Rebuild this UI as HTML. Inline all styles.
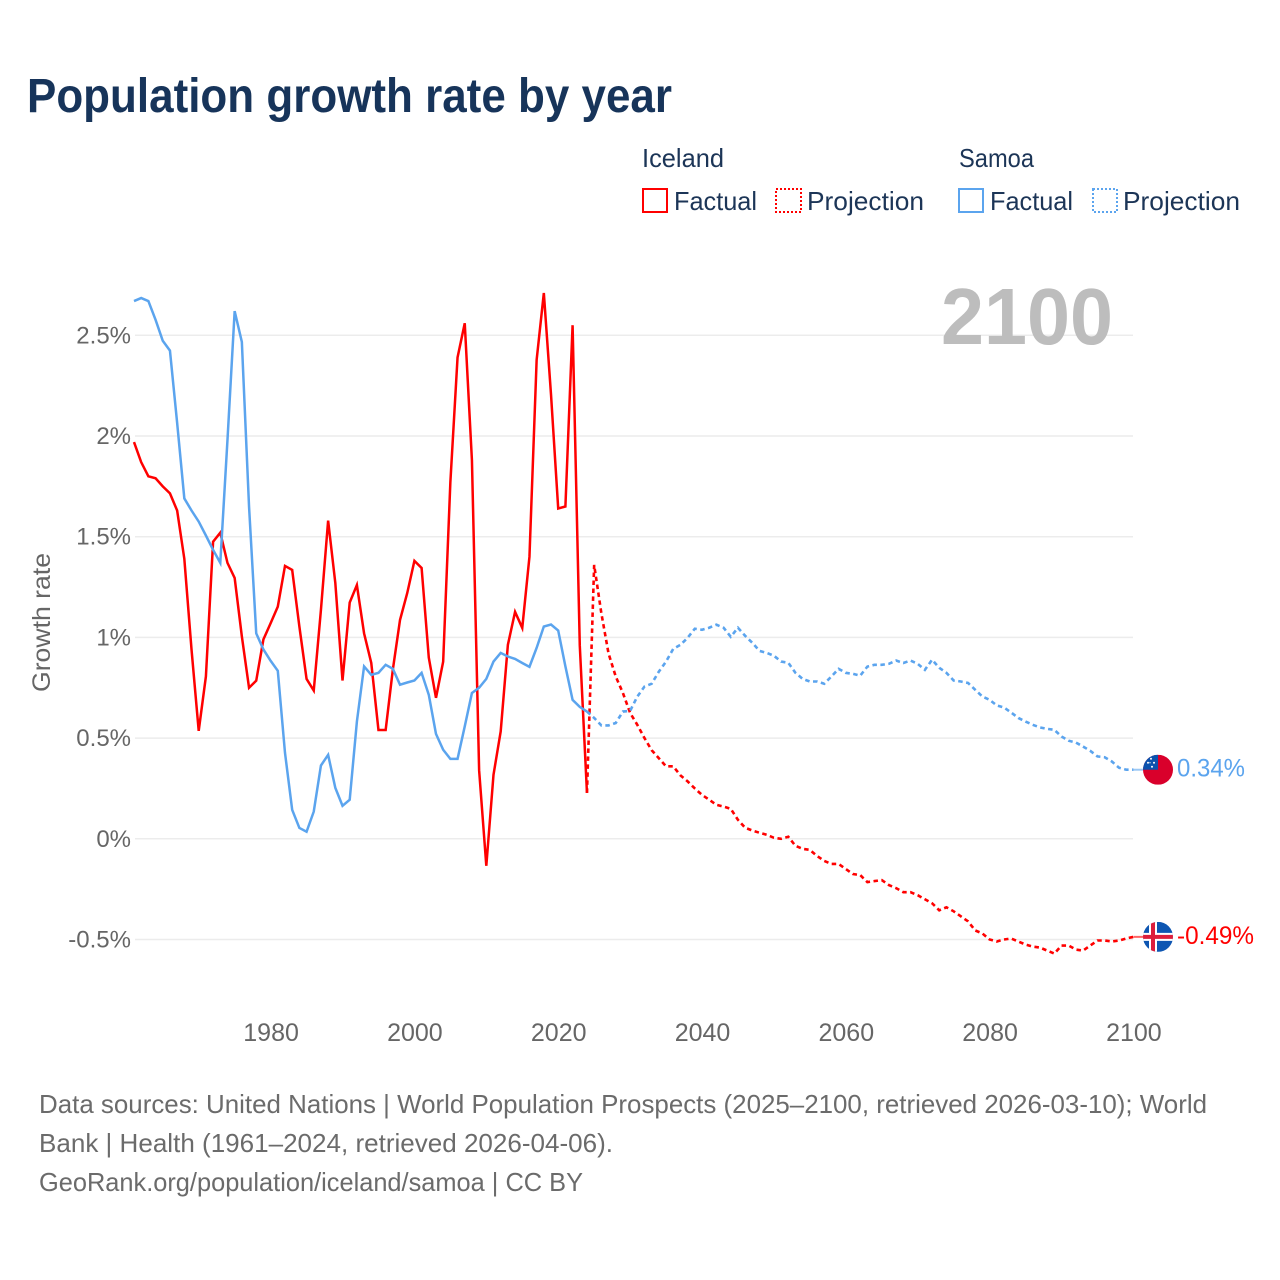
<!DOCTYPE html>
<html lang="en">
<head>
<meta charset="utf-8">
<title>Population growth rate by year</title>
<style>
html,body{margin:0;padding:0;background:#fff;}
svg{display:block;font-family:"Liberation Sans",sans-serif;}
</style>
</head>
<body>
<svg id="chart" width="1280" height="1280" viewBox="0 0 1280 1280" xmlns="http://www.w3.org/2000/svg">
  <defs>
    <clipPath id="flag-clip"><circle cx="0" cy="0" r="15"/></clipPath>
  </defs>
  <rect x="0" y="0" width="1280" height="1280" fill="#fff"/>
  <text x="27" y="112" font-size="48" font-weight="700" fill="#17345a" textLength="645" lengthAdjust="spacingAndGlyphs">Population growth rate by year</text>

  <g font-size="26" fill="#1c3557">
    <text x="642" y="167" textLength="82" lengthAdjust="spacingAndGlyphs">Iceland</text>
    <text x="959" y="167" textLength="75" lengthAdjust="spacingAndGlyphs">Samoa</text>
    <g>
      <rect x="643" y="189" width="24" height="23" fill="none" stroke="#ff0000" stroke-width="2"/>
      <text x="674" y="210" textLength="83" lengthAdjust="spacingAndGlyphs">Factual</text>
    </g>
    <g>
      <rect x="776" y="189" width="25" height="23" fill="none" stroke="#ff0000" stroke-width="2" stroke-dasharray="2 2"/>
      <text x="807" y="210" textLength="117" lengthAdjust="spacingAndGlyphs">Projection</text>
    </g>
    <g>
      <rect x="959" y="189" width="24" height="23" fill="none" stroke="#5ba4ee" stroke-width="2"/>
      <text x="990" y="210" textLength="83" lengthAdjust="spacingAndGlyphs">Factual</text>
    </g>
    <g>
      <rect x="1093" y="189" width="24" height="23" fill="none" stroke="#5ba4ee" stroke-width="2" stroke-dasharray="2 2"/>
      <text x="1123" y="210" textLength="117" lengthAdjust="spacingAndGlyphs">Projection</text>
    </g>
  </g>

  <g id="grid"></g>
  <g id="y-ticks"></g>
  <g id="x-ticks"></g>
  <text transform="translate(50,692) rotate(-90)" font-size="25" fill="#666" textLength="139" lengthAdjust="spacingAndGlyphs">Growth rate</text>
  <text x="941" y="344" font-size="80" font-weight="700" fill="#bdbdbd" textLength="172" lengthAdjust="spacingAndGlyphs">2100</text>

  <g id="series"></g>

  <g id="flag-samoa">
    <g clip-path="url(#flag-clip)">
      <rect x="-15" y="-15" width="30" height="30" fill="#d9002b"/>
      <rect x="-15" y="-15" width="15" height="15" fill="#0b52ad"/>
      <circle cx="-7" cy="-11" r="1" fill="#fff"/>
      <circle cx="-10" cy="-7" r="1" fill="#fff"/>
      <circle cx="-4" cy="-7" r="1" fill="#fff"/>
      <circle cx="-6" cy="-3" r="1" fill="#fff"/>
      <circle cx="-8" cy="-7" r="0.6" fill="#fff"/>
    </g>
  </g>
  <g id="flag-iceland">
    <g clip-path="url(#flag-clip)">
      <rect x="-15" y="-15" width="30" height="30" fill="#0e56b2"/>
      <rect x="-15" y="-4" width="30" height="8" fill="#fff"/>
      <rect x="-9" y="-15" width="8" height="30" fill="#fff"/>
      <rect x="-15" y="-2" width="30" height="4" fill="#dc1e3c"/>
      <rect x="-7" y="-15" width="4" height="30" fill="#dc1e3c"/>
    </g>
  </g>
  <text id="end-label-samoa" x="1177" font-size="25" fill="#5ba4ee" textLength="68" lengthAdjust="spacingAndGlyphs"></text>
  <text id="end-label-iceland" x="1177" font-size="25" fill="#ff0000" textLength="77" lengthAdjust="spacingAndGlyphs"></text>

  <g font-size="26" fill="#6b6b6b">
    <text x="39" y="1113" textLength="1168" lengthAdjust="spacingAndGlyphs">Data sources: United Nations | World Population Prospects (2025–2100, retrieved 2026-03-10); World</text>
    <text x="39" y="1152" textLength="574" lengthAdjust="spacingAndGlyphs">Bank | Health (1961–2024, retrieved 2026-04-06).</text>
    <text x="39" y="1191" textLength="544" lengthAdjust="spacingAndGlyphs">GeoRank.org/population/iceland/samoa | CC BY</text>
  </g>
</svg>
<script>
const firstYear = 1961;
const firstProjectionYear = 2025;
const lastYear = 2100;
const xTickLabels = [1980, 2000, 2020, 2040, 2060, 2080, 2100];
const yTickValues = [2.5, 2, 1.5, 1, 0.5, 0, -0.5];
const yTickLabels = ["2.5%", "2%", "1.5%", "1%", "0.5%", "0%", "-0.5%"];
const icelandFactual = [
  1.97, 1.87, 1.80, 1.79, 1.75, 1.715, 1.63, 1.39, 0.94, 0.536,
  0.806, 1.475, 1.52, 1.37, 1.295, 1.005, 0.75, 0.785, 0.99, 1.07,
  1.153, 1.355, 1.335, 1.054, 0.794, 0.736, 1.137, 1.58, 1.27, 0.786,
  1.173, 1.26, 1.02, 0.873, 0.54, 0.54, 0.84, 1.087, 1.22, 1.38,
  1.345, 0.9, 0.70, 0.88, 1.77, 2.39, 2.56, 1.88, 0.34, -0.134,
  0.318, 0.533, 0.963, 1.127, 1.047, 1.40, 2.378, 2.71, 2.205, 1.64,
  1.65, 2.55, 0.96, 0.228
];
const icelandProjection = [
  1.36, 1.12, 0.92, 0.806, 0.724, 0.625,
  0.566, 0.50, 0.44, 0.40, 0.36, 0.36, 0.315, 0.285, 0.25, 0.218,
  0.194, 0.169, 0.16, 0.149, 0.094, 0.055, 0.041, 0.03, 0.02, 0.005,
  0, 0.01, -0.035, -0.05, -0.055, -0.085, -0.11, -0.125, -0.125, -0.15,
  -0.175, -0.18, -0.215, -0.21, -0.205, -0.23, -0.245, -0.265, -0.265, -0.28,
  -0.30, -0.32, -0.355, -0.34, -0.36, -0.385, -0.41, -0.455, -0.47, -0.50,
  -0.51, -0.50, -0.495, -0.51, -0.525, -0.535, -0.54, -0.555, -0.57, -0.53,
  -0.53, -0.55, -0.555, -0.53, -0.505, -0.505, -0.51, -0.505, -0.495, -0.487
];
const samoaFactual = [
  2.67, 2.685, 2.67, 2.577, 2.473, 2.424, 2.065, 1.69, 1.63, 1.575,
  1.506, 1.435, 1.37, 1.98, 2.62, 2.467, 1.65, 1.02, 0.94, 0.884,
  0.834, 0.427, 0.144, 0.054, 0.035, 0.135, 0.364, 0.417, 0.253, 0.164,
  0.194, 0.582, 0.856, 0.814, 0.824, 0.864, 0.844, 0.765, 0.776, 0.786,
  0.824, 0.715, 0.521, 0.442, 0.397, 0.397, 0.558, 0.724, 0.75, 0.794,
  0.88, 0.923, 0.905, 0.893, 0.873, 0.854, 0.948, 1.054, 1.064, 1.034,
  0.856, 0.69, 0.655, 0.632
];
const samoaProjection = [
  0.60, 0.563, 0.563, 0.575, 0.632, 0.635,
  0.706, 0.756, 0.77, 0.83, 0.88, 0.943, 0.963, 0.998, 1.043, 1.038,
  1.048, 1.063, 1.048, 1.003, 1.048, 1.008, 0.973, 0.933, 0.923, 0.909,
  0.88, 0.874, 0.824, 0.794, 0.781, 0.781, 0.77, 0.806, 0.844, 0.824,
  0.819, 0.81, 0.855, 0.864, 0.864, 0.869, 0.885, 0.873, 0.885, 0.869,
  0.839, 0.889, 0.849, 0.824, 0.786, 0.781, 0.774, 0.74, 0.706, 0.69,
  0.662, 0.652, 0.627, 0.60, 0.582, 0.566, 0.553, 0.546, 0.541, 0.508,
  0.487, 0.478, 0.458, 0.437, 0.409, 0.405, 0.384, 0.353, 0.343, 0.343
];

const SVG_NS = "http://www.w3.org/2000/svg";
function xScale(year) {
  return 134 + (year - firstYear) * (1133.4 - 134) / (lastYear - firstYear);
}
function yScale(value) {
  return 838.8 - value * 201.4;
}
function linePath(values, startYear, prefix) {
  return (prefix || "") + values.map(function (v, i) {
    return (i === 0 && !prefix ? "M" : "L") + xScale(startYear + i).toFixed(2) + " " + yScale(v).toFixed(2);
  }).join(" ");
}
function makeEl(tag, attrs) {
  const el = document.createElementNS(SVG_NS, tag);
  Object.keys(attrs).forEach(function (k) { el.setAttribute(k, attrs[k]); });
  return el;
}

const gridGroup = document.getElementById("grid");
const yTickGroup = document.getElementById("y-ticks");
yTickValues.forEach(function (v, i) {
  const line = makeEl("line", { x1: 135, x2: 1133, y1: yScale(v), y2: yScale(v), stroke: "#ececec", "stroke-width": 1.5 });
  
  
  gridGroup.appendChild(line);
  const label = makeEl("text", { x: 131, y: yScale(v) + 8, "text-anchor": "end", "font-size": 24, fill: "#666" });
  
  
  label.textContent = yTickLabels[i];
  yTickGroup.appendChild(label);
});

const xTickGroup = document.getElementById("x-ticks");
xTickLabels.forEach(function (year) {
  const label = makeEl("text", { x: xScale(year) + 0.5, y: 1041, "text-anchor": "middle", "font-size": 25, fill: "#666" });
  
  
  label.textContent = year;
  xTickGroup.appendChild(label);
});

const seriesGroup = document.getElementById("series");
function bridgeStart(factual) {
  const lastIndex = factual.length - 1;
  return "M" + xScale(firstYear + lastIndex).toFixed(2) + " " + yScale(factual[lastIndex]).toFixed(2) + " ";
}
function addConnector(values, color) {
  const lastValue = values[values.length - 1];
  const connector = makeEl("line", { x1: xScale(lastYear), x2: 1143, y1: yScale(lastValue), y2: yScale(lastValue), stroke: color, "stroke-width": 2, opacity: 0.6 });
  
  
  seriesGroup.appendChild(connector);
}
addConnector(icelandProjection, "#ff0000");
addConnector(samoaProjection, "#5ba4ee");

const icelandFactualLine = makeEl("path", { d: linePath(icelandFactual, firstYear), fill: "none", stroke: "#ff0000", "stroke-width": 2.5 });


seriesGroup.appendChild(icelandFactualLine);

const icelandProjectionLine = makeEl("path", { d: linePath(icelandProjection, firstProjectionYear, bridgeStart(icelandFactual)), fill: "none", stroke: "#ff0000", "stroke-width": 2.6, "stroke-dasharray": "4.5 3.5" });


seriesGroup.appendChild(icelandProjectionLine);

const samoaFactualLine = makeEl("path", { d: linePath(samoaFactual, firstYear), fill: "none", stroke: "#5ba4ee", "stroke-width": 2.5 });


seriesGroup.appendChild(samoaFactualLine);

const samoaProjectionLine = makeEl("path", { d: linePath(samoaProjection, firstProjectionYear, bridgeStart(samoaFactual)), fill: "none", stroke: "#5ba4ee", "stroke-width": 2.6, "stroke-dasharray": "4.5 3.5" });


seriesGroup.appendChild(samoaProjectionLine);

const samoaEnd = samoaProjection[samoaProjection.length - 1];
const icelandEnd = icelandProjection[icelandProjection.length - 1];
document.getElementById("flag-samoa").setAttribute("transform", "translate(1158," + yScale(samoaEnd) + ")");
document.getElementById("flag-iceland").setAttribute("transform", "translate(1158," + yScale(icelandEnd) + ")");
const samoaLabel = document.getElementById("end-label-samoa");
samoaLabel.setAttribute("y", yScale(samoaEnd) + 7);
samoaLabel.textContent = samoaEnd.toFixed(2) + "%";
const icelandLabel = document.getElementById("end-label-iceland");
icelandLabel.setAttribute("y", yScale(icelandEnd) + 7);
icelandLabel.textContent = icelandEnd.toFixed(2) + "%";
</script>
</body>
</html>
